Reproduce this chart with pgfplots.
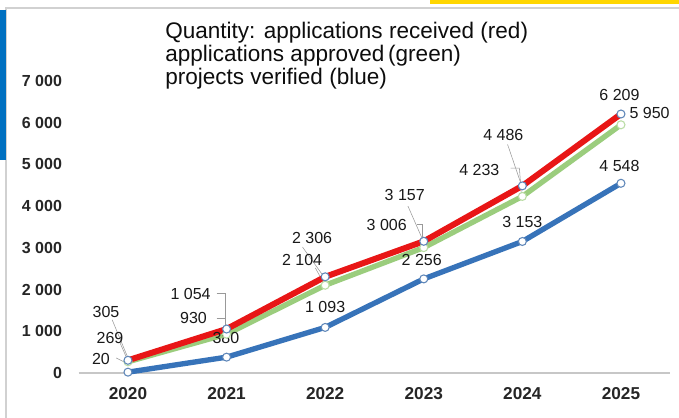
\documentclass[border=0pt]{standalone}
\usepackage{pgfplots}
\usepackage{pgfplotstable}
\pgfplotsset{compat=1.18}
\usepackage{fontspec}
\setmainfont{Liberation Sans}
\definecolor{cred}{RGB}{232,22,22}
\definecolor{cgreen}{RGB}{155,205,125}
\definecolor{cblue}{RGB}{55,115,185}
\definecolor{mkout}{RGB}{95,135,185}
\definecolor{barblue}{RGB}{0,112,192}
\definecolor{ylw}{RGB}{255,214,0}

\pgfplotstableread{
x y dx dy
0 305 -16.5 36
1 1054 -27 26.3
2 2306 -9.8 29.3
3 3157 -14.3 34.5
4 4486 -14.3 38.3
5 6209 -1.1 13.9
}\received
\pgfplotstableread{
x y dx dy
0 269 -13.5 18
1 930 -24.8 12
2 2104 -17.3 18.8
3 3006 -27.8 17.3
4 4233 -32.3 19.5
5 5950 21.5 9
}\approved
\pgfplotstableread{
x y dx dy
0 20 -20.3 9.8
1 380 -0.5 14.3
2 1093 0 15
3 2256 -1.5 14.3
4 3153 0 14.6
5 4548 -1.1 13.3
}\verified

\begin{document}
\begin{tikzpicture}
\path[use as bounding box] (0pt,0pt) rectangle (509.25pt,313.5pt);
% decorations
\fill[white] (0pt,0pt) rectangle (509.25pt,313.5pt);
\draw[black!18, line width=0.8pt] (4.5pt,0pt) -- (4.5pt,307.5pt) -- (509.25pt,307.5pt);
\fill[barblue] (0pt,193.5pt) rectangle (4.5pt,306pt);
\fill[ylw] (322.5pt,310.5pt) rectangle (509.25pt,313.5pt);

\node[anchor=north west, inner sep=0pt, align=left, text=black!95,
      font=\fontsize{16.9}{17.1}\selectfont] at (123.75pt,297pt)
  {Quantity: applications received (red)\\applications approved\,(green)\\projects verified (blue)};

\begin{axis}[
  at={(59.0pt,33.75pt)}, anchor=south west,
  scale only axis, width=443.7pt, height=219pt,
  xmin=-0.5, xmax=5.5, ymin=0, ymax=7000,
  clip=false,
  axis lines*=left,
  y axis line style={draw=none},
  x axis line style={black!22, line width=0.8pt},
  tick style={draw=none},
  xtick={0,1,2,3,4,5},
  xticklabels={2020,2021,2022,2023,2024,2025},
  ytick={0,1000,...,7000},
  /pgf/number format/.cd, 1000 sep={\ }, assume math mode=true,
  /pgfplots/.cd,
  yticklabel style={font=\bfseries\fontsize{12}{12}\selectfont, text=black!85, xshift=-9pt},
  xticklabel style={font=\bfseries\fontsize{12.9}{12.9}\selectfont, text=black!85, yshift=-7pt},
  nodes near coords={\pgfmathprintnumber[1000 sep={\ },assume math mode=true]{\pgfplotspointmeta}},
  visualization depends on={\thisrow{dx} \as \dx},
  visualization depends on={\thisrow{dy} \as \dy},
  nodes near coords style={anchor=center, inner sep=0pt, text=black!90,
     font=\fontsize{12}{12}\selectfont, xshift=\dx pt, yshift=\dy pt},
]
% leader lines
\draw[black!40, line width=0.4pt] (axis cs:-0.16,1275) -- (axis cs:0,360);
\draw[black!40, line width=0.4pt] (axis cs:-0.08,720) -- (axis cs:0,290);
\draw[black!40, line width=0.4pt] (axis cs:-0.12,360) -- (axis cs:-0.01,230);
\draw[black!40, line width=0.4pt] (axis cs:0.90,1920) -- (axis cs:0.985,1920) -- (axis cs:0.985,1080);
\draw[black!40, line width=0.4pt] (axis cs:0.90,1320) -- (axis cs:0.99,1320) -- (axis cs:0.99,960);
\draw[black!40, line width=0.4pt] (axis cs:1.77,3020) -- (axis cs:1.98,2330);
\draw[black!40, line width=0.4pt] (axis cs:1.90,2520) -- (axis cs:1.99,2140);
\draw[black!40, line width=0.4pt] (axis cs:2.84,4000) -- (axis cs:2.99,3190);
\draw[black!40, line width=0.4pt] (axis cs:2.93,3570) -- (axis cs:2.985,3570) -- (axis cs:2.985,3060);
\draw[black!40, line width=0.4pt] (axis cs:3.85,5480) -- (axis cs:3.99,4510);
\draw[black!40, line width=0.4pt] (axis cs:3.88,4910) -- (axis cs:3.97,4910) -- (axis cs:3.99,4290);

\addplot[cblue, line width=4pt, mark=*, mark size=3pt,
  mark options={fill=white, draw=mkout, line width=0.8pt}]
  table[x=x,y=y] {\verified};
\addplot[cgreen, line width=4pt, mark=*, mark size=3pt,
  mark options={fill=white, draw=cgreen!70!white, line width=0.8pt}]
  table[x=x,y=y] {\approved};
\addplot[cred, line width=4.5pt, mark=*, mark size=3pt,
  mark options={fill=white, draw=mkout, line width=0.8pt}]
  table[x=x,y=y] {\received};
\end{axis}
\end{tikzpicture}
\end{document}
